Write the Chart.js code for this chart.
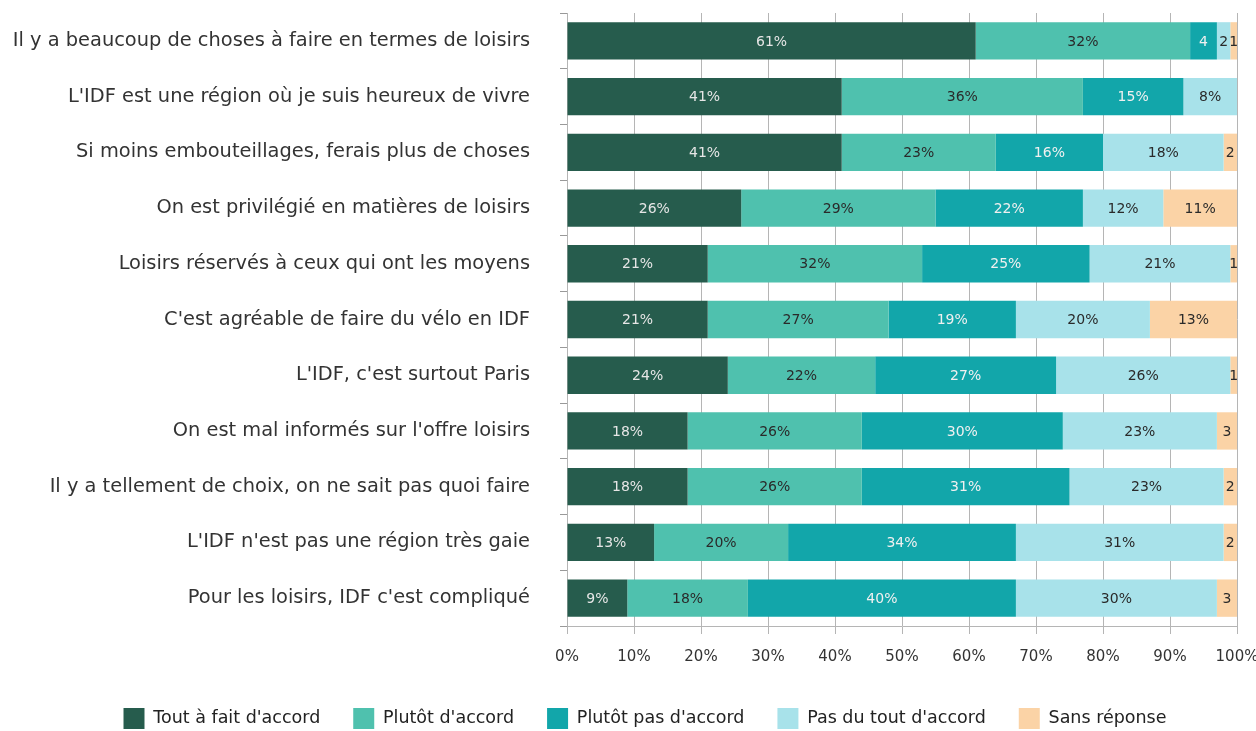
<!DOCTYPE html>
<html>
<head>
<meta charset="utf-8">
<script src="https://cdn.jsdelivr.net/npm/chart.js@4.4.1/dist/chart.umd.min.js"></script>
<style>
  html, body { margin: 0; padding: 0; background: #fff; overflow: hidden; }
  #wrap { width: 1290px; height: 739px; }
</style>
</head>
<body>
<div id="wrap"><canvas id="chart" width="1290" height="739"></canvas></div>
<script>
// categories, top to bottom
const categories = [
  "Il y a beaucoup de choses à faire en termes de loisirs",
  "L'IDF est une région où je suis heureux de vivre",
  "Si moins embouteillages, ferais plus de choses",
  "On est privilégié en matières de loisirs",
  "Loisirs réservés à ceux qui ont les moyens",
  "C'est agréable de faire du vélo en IDF",
  "L'IDF, c'est surtout Paris",
  "On est mal informés sur l'offre loisirs",
  "Il y a tellement de choix, on ne sait pas quoi faire",
  "L'IDF n'est pas une région très gaie",
  "Pour les loisirs, IDF c'est compliqué"
];

// series values (%)
const toutAFait   = [61, 41, 41, 26, 21, 21, 24, 18, 18, 13, 9];
const plutot      = [32, 36, 23, 29, 32, 27, 22, 26, 26, 20, 18];
const plutotPas   = [4, 15, 16, 22, 25, 19, 27, 30, 31, 34, 40];
const pasDuTout   = [2, 8, 18, 12, 21, 20, 26, 23, 23, 31, 30];
const sansReponse = [1, 0, 2, 11, 1, 13, 1, 3, 2, 2, 3];

const xTicks = [0, 10, 20, 30, 40, 50, 60, 70, 80, 90, 100];

const FONT = "'DejaVu Sans', sans-serif";

/*
  @desc: writes the value in the middle of every bar piece
*/
const barLabels = {
  id: "barLabels",
  afterDatasetsDraw(chart) {
    const ctx = chart.ctx;
    ctx.save();
    ctx.font = "14px " + FONT;
    ctx.textAlign = "center";
    ctx.textBaseline = "middle";
    chart.data.datasets.forEach((ds, i) => {
      const meta = chart.getDatasetMeta(i);
      meta.data.forEach((bar, j) => {
        const v = ds.data[j];
        if (!v) return;
        const txt = v >= 5 ? v + "%" : String(v);
        ctx.fillStyle = ds.labelColor;
        ctx.fillText(txt, (bar.x + bar.base) / 2, bar.y + 1);
      });
    });
    ctx.restore();
  }
};

const config = {
  type: "bar",
  data: {
    labels: categories,
    datasets: [
      { label: "Tout à fait d'accord", data: toutAFait, backgroundColor: "#265c4d", labelColor: "#e6e6e6" },
      { label: "Plutôt d'accord", data: plutot, backgroundColor: "#4fc1ae", labelColor: "#2a2a2a" },
      { label: "Plutôt pas d'accord", data: plutotPas, backgroundColor: "#12a6aa", labelColor: "#f0f0f0" },
      { label: "Pas du tout d'accord", data: pasDuTout, backgroundColor: "#a8e2ea", labelColor: "#2a2a2a" },
      { label: "Sans réponse", data: sansReponse, backgroundColor: "#fbd3a6", labelColor: "#2a2a2a" }
    ]
  },
  options: {
    indexAxis: "y",
    responsive: false,
    animation: false,
    layout: { padding: { top: 13, right: 0, left: 0, bottom: 0 } },
    datasets: { bar: { barPercentage: 0.67, categoryPercentage: 1, borderWidth: 0 } },
    scales: {
      x: {
        stacked: true,
        min: 0,
        max: 100,
        afterBuildTicks: (s) => { s.ticks = xTicks.map(v => ({ value: v })); },
        ticks: {
          callback: (v) => v + "%",
          color: "#333",
          font: { family: FONT, size: 15 },
          padding: 14,
          maxRotation: 0
        },
        grid: { color: "#b5b5b5", tickLength: 8, lineWidth: 1 },
        border: { color: "#b5b5b5" },
        // right gap is set here so the legend stays centred on the full width
        afterFit: (s) => { s.height = 49; s.paddingRight = 53; }
      },
      y: {
        stacked: true,
        ticks: {
          color: "#333",
          font: { family: FONT, size: 19.4 },
          padding: 30
        },
        grid: { offset: true, drawOnChartArea: false, tickLength: 7, color: "#999" },
        border: { color: "#b5b5b5" },
        // keep the label padding from pushing the plot down
        afterFit: (s) => { s.width = 567; s.paddingTop = 0; s.paddingBottom = 0; }
      }
    },
    plugins: {
      legend: {
        position: "bottom",
        labels: {
          boxWidth: 21,
          boxHeight: 21,
          padding: 33,
          color: "#222",
          font: { family: FONT, size: 17.5 }
        }
      },
      tooltip: { enabled: false }
    }
  },
  plugins: [barLabels]
};

const chart = new Chart(document.getElementById("chart"), config);
</script>
</body>
</html>
